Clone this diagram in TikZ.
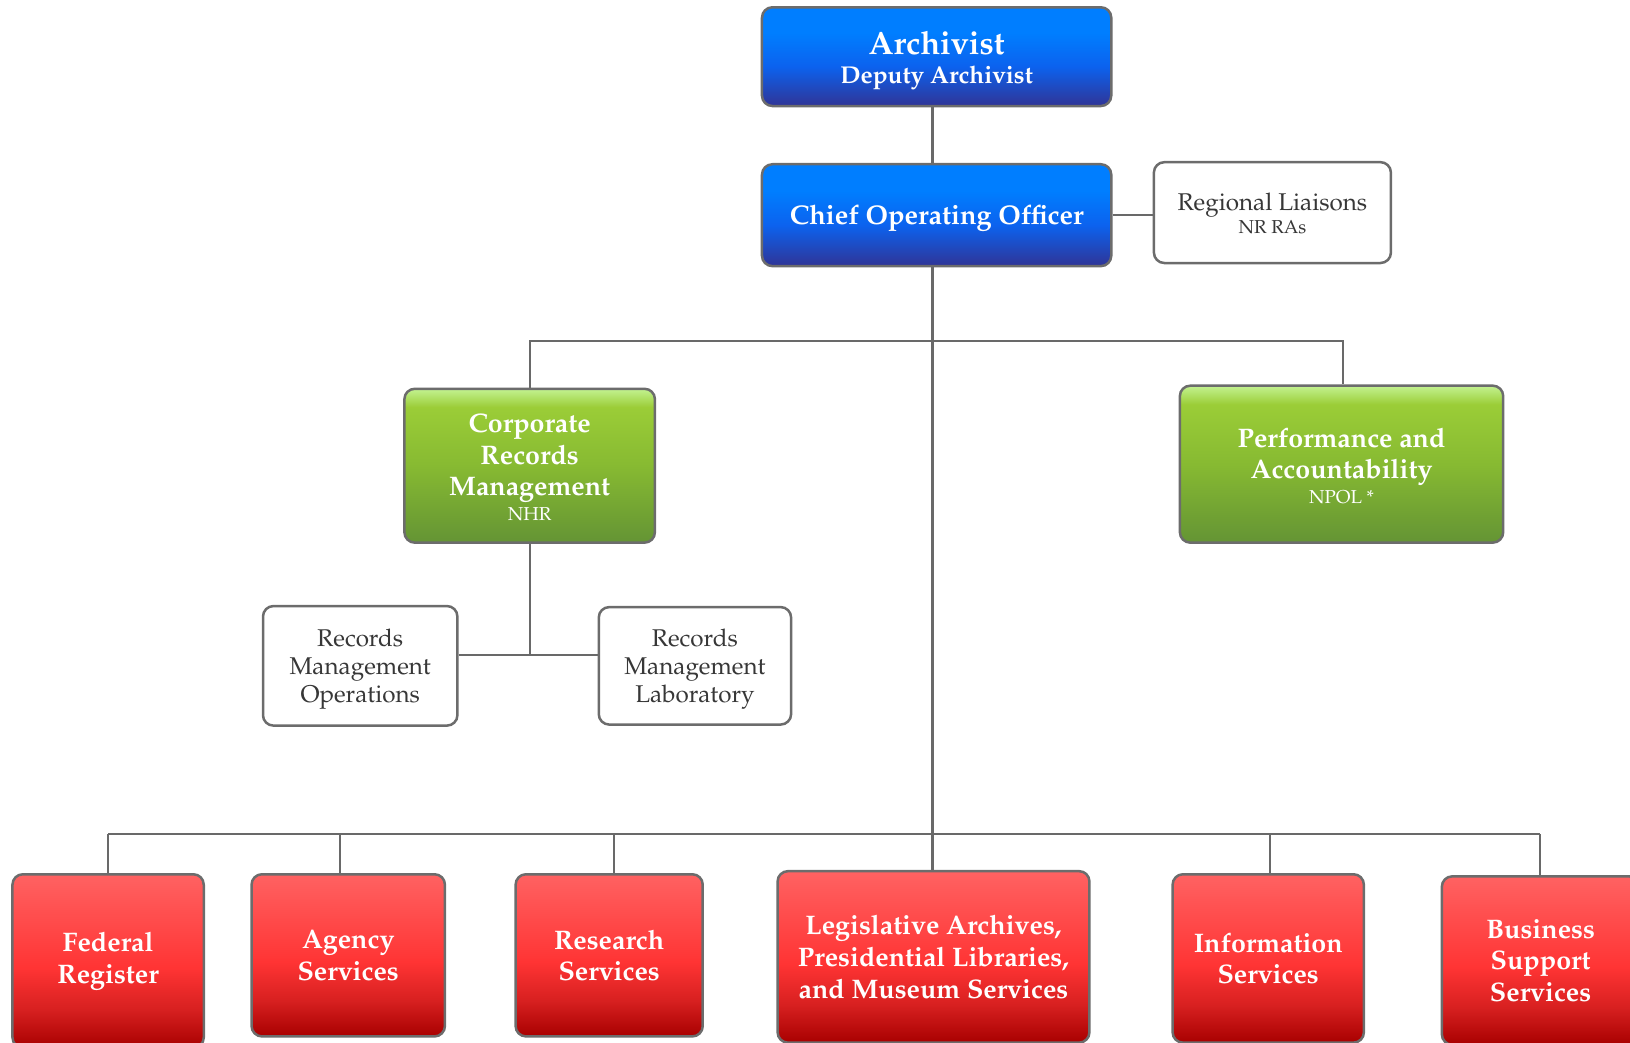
\documentclass[tikz,border=0pt]{standalone}
\usepackage[T1]{fontenc}
\usepackage{mathpazo}
\usetikzlibrary{backgrounds}

\definecolor{linegray}{RGB}{105,105,105}
\definecolor{boxedge}{RGB}{108,108,108}
\definecolor{textgray}{RGB}{55,55,55}
\definecolor{btop}{RGB}{0,126,255}
\definecolor{bmid}{RGB}{12,98,238}
\definecolor{bbot}{RGB}{48,52,150}
\definecolor{gedge}{RGB}{195,242,145}
\definecolor{gtop}{RGB}{155,205,55}
\definecolor{gmid}{RGB}{135,186,50}
\definecolor{gbot}{RGB}{100,148,52}
\definecolor{rtop}{RGB}{255,98,98}
\definecolor{rmid}{RGB}{255,52,52}
\definecolor{rlow}{RGB}{215,32,32}
\definecolor{rbot}{RGB}{168,0,0}

% vertical shadings: the node spans 25bp (bottom) to 75bp (top)
\pgfdeclareverticalshading{bluegrad}{100bp}{color(0bp)=(bbot); color(25bp)=(bbot); color(45bp)=(bmid); color(62bp)=(btop); color(75bp)=(btop); color(100bp)=(btop)}
\pgfdeclareverticalshading{greengrad}{100bp}{color(0bp)=(gbot); color(25bp)=(gbot); color(50bp)=(gmid); color(69bp)=(gtop); color(75bp)=(gedge); color(100bp)=(gedge)}
\pgfdeclareverticalshading{redgrad}{100bp}{color(0bp)=(rbot); color(25bp)=(rbot); color(36bp)=(rlow); color(48bp)=(rmid); color(75bp)=(rtop); color(100bp)=(rtop)}

\tikzset{
  orgbox/.style={draw=boxedge, line width=2.4pt, rounded corners=10pt, inner sep=0pt},
  bluebox/.style={orgbox, shade, shading=bluegrad},
  greenbox/.style={orgbox, shade, shading=greengrad},
  redbox/.style={orgbox, shade, shading=redgrad},
  plainbox/.style={orgbox, fill=white},
  boldtext/.style={align=center, inner sep=0pt, text=white, font=\fontsize{25.8}{30.5}\selectfont\bfseries},
  plaintext/.style={align=center, inner sep=0pt, text=textgray, font=\fontsize{23.3}{27}\selectfont},
  link/.style={draw=linegray, line width=2pt}
}
\newcommand\subline[1]{{\fontsize{18}{20}\selectfont\mdseries #1}}

\begin{document}
\begin{tikzpicture}[x=1pt, y=-1pt]
\useasboundingbox (0,0) rectangle (1568,1003);

% top of the chart
\node[bluebox, minimum width=336pt, minimum height=95pt,
  label={[boldtext, name=arch-text, yshift=-3.5pt]center:{{\fontsize{31}{33}\selectfont Archivist}\\[-3pt]{\fontsize{23.4}{25}\selectfont Deputy Archivist}}}]
  (arch) at (901,54.5) {};
\node[bluebox, minimum width=336pt, minimum height=98pt,
  label={[boldtext, name=coo-text, yshift=-3pt, font=\fontsize{26}{30}\selectfont\bfseries]center:Chief Operating Officer}]
  (coo) at (901,207) {};
\node[plainbox, minimum width=228pt, minimum height=97pt,
  label={[plaintext, name=rl-text, yshift=-1pt]center:{Regional Liaisons\\[-5pt]\subline{NR RAs}}}]
  (rl) at (1224,204.5) {};

% staff offices
\node[greenbox, minimum width=241pt, minimum height=148pt,
  label={[boldtext, name=crm-text, yshift=-1.5pt]center:{Corporate\\Records\\Management\\[-7pt]\subline{NHR}}}]
  (crm) at (509.5,448) {};
\node[greenbox, minimum width=311pt, minimum height=151pt,
  label={[boldtext, name=pa-text, yshift=-1.5pt]center:{Performance and\\Accountability\\[-7pt]\subline{NPOL *}}}]
  (pa) at (1290.5,446.5) {};

\node[plainbox, minimum width=187pt, minimum height=115pt,
  label={[plaintext, name=rmo-text, yshift=-3pt]center:{Records\\Management\\Operations}}]
  (rmo) at (346.5,640.5) {};
\node[plainbox, minimum width=185pt, minimum height=113pt,
  label={[plaintext, name=rml-text, yshift=-3pt]center:{Records\\Management\\Laboratory}}]
  (rml) at (668.5,640.5) {};

% program offices
\node[redbox, minimum width=184pt, minimum height=167pt,
  label={[boldtext, name=fr-text]center:{Federal\\Register}}] (fr) at (104,924.5) {};
\node[redbox, minimum width=186pt, minimum height=156pt,
  label={[boldtext, name=as-text]center:{Agency\\Services}}] (as) at (335,919) {};
\node[redbox, minimum width=180pt, minimum height=156pt,
  label={[boldtext, name=rs-text]center:{Research\\Services}}] (rs) at (586,919) {};
\node[redbox, minimum width=300pt, minimum height=165pt,
  label={[boldtext, name=leg-text]center:{Legislative Archives,\\Presidential Libraries,\\and Museum Services}}]
  (leg) at (898,920.5) {};
\node[redbox, minimum width=184pt, minimum height=162pt,
  label={[boldtext, name=is-text]center:{Information\\Services}}] (is) at (1220,922) {};
\node[redbox, minimum width=190pt, minimum height=162pt,
  label={[boldtext, name=bss-text]center:{Business\\Support\\Services}}] (bss) at (1482,924) {};

\coordinate (staffbus) at (897,328);
\coordinate (progbus) at (897,802);
\coordinate (crmjoin) at (510,630);

\begin{scope}[on background layer]
  \draw[link] (arch.south -| 897,0) -- (coo.north -| 897,0);
  \draw[link] (coo.east |- 0,207) -- (rl.west |- 0,207);
  \draw[link] (coo.south -| 897,0) -- (leg.north -| 897,0);
  \draw[link] (crm.north -| crmjoin) -- (staffbus -| crmjoin) -- (staffbus -| 1292,0) -- (pa.north -| 1292,0);
  \draw[link] (crm.south -| crmjoin) -- (crmjoin);
  \draw[link] (rmo.east |- crmjoin) -- (rml.west |- crmjoin);
  \draw[link] (progbus -| fr.north) -- (progbus -| 1481,0);
  \draw[link] (fr.north) -- (progbus -| fr.north);
  \draw[link] ([xshift=-8pt]as.north) -- (progbus -| 327,0);
  \draw[link] ([xshift=5pt]rs.north) -- (progbus -| 591,0);
  \draw[link] ([xshift=2pt]is.north) -- (progbus -| 1222,0);
  \draw[link] (bss.north -| 1481,0) -- (progbus -| 1481,0);
\end{scope}
\end{tikzpicture}
\end{document}
